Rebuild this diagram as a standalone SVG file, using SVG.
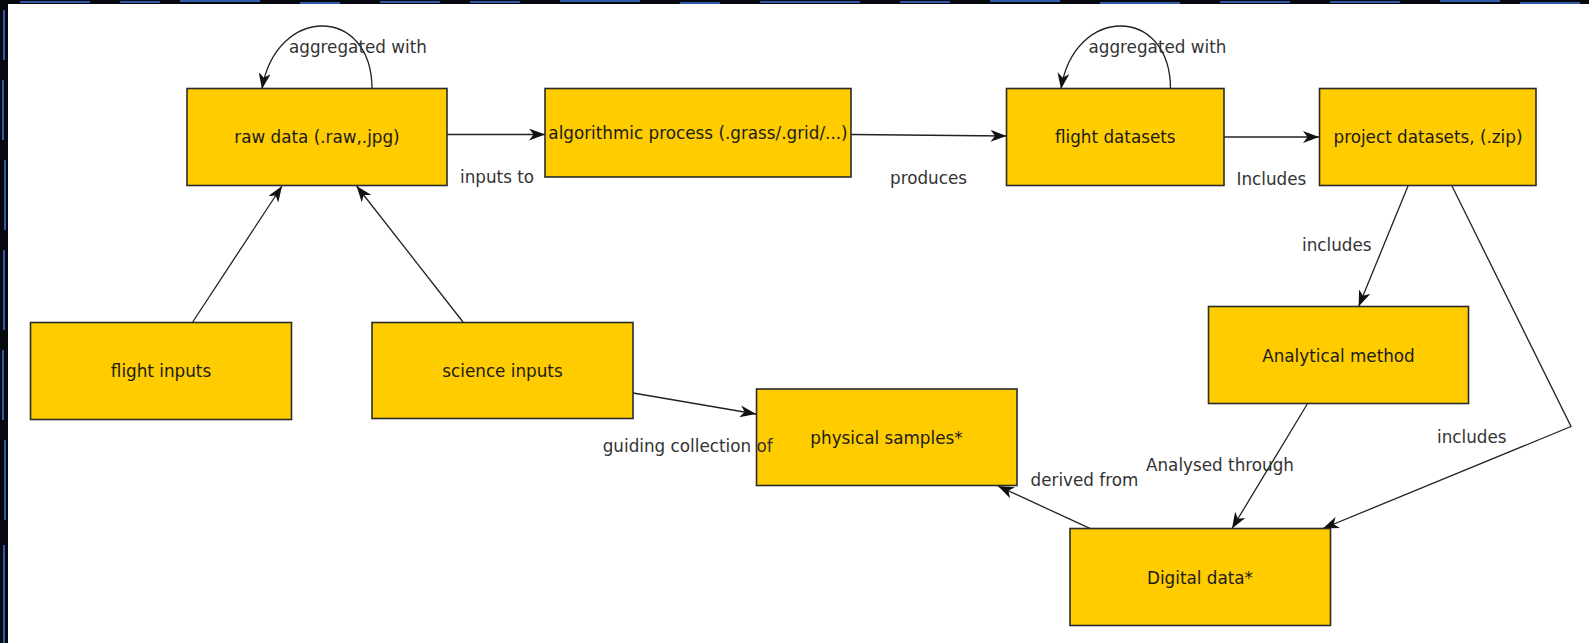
<svg xmlns="http://www.w3.org/2000/svg" width="1589" height="643" viewBox="0 0 1589 643">
  <style>
    .box { fill: #FFCC00; stroke: #2b2b2b; stroke-width: 1.6; }
    .ntext { font-family: "DejaVu Sans", "Liberation Sans", sans-serif; font-size: 16.8px; fill: #1a1a1a; text-anchor: middle; }
    .label { font-family: "DejaVu Sans", "Liberation Sans", sans-serif; font-size: 16.8px; fill: #333333; }
    .edge { fill: none; stroke: #222222; stroke-width: 1.3; marker-end: url(#arrow); }
    .circ { stroke: #2f5aa8; stroke-width: 2; fill: none; }
  </style>
  <defs>
    <marker id="arrow" viewBox="0 0 16 12" refX="16" refY="6" markerWidth="16" markerHeight="12" markerUnits="userSpaceOnUse" orient="auto">
      <path d="M0,0 L16,6 L0,12 L4.5,6 Z" fill="#111111"/>
    </marker>
  </defs>

  <!-- decorative dark border -->
  <g id="background">
    <rect x="0" y="0" width="1589" height="643" fill="#05080f"/>
    <path class="circ" d="M20,2 H90 M120,2 H160 M180,1 H260 M300,3 H340 M380,2 H440 M470,2 H520 M560,1 H640 M680,3 H720 M760,2 H860 M900,2 H950 M990,1 H1060 M1100,3 H1180 M1220,2 H1290 M1330,2 H1400 M1440,1 H1500 M1520,3 H1580"/>
    <path class="circ" d="M4,10 V60 M3,80 V140 M5,160 V230 M4,250 V330 M3,350 V420 M5,440 V520 M4,545 V643"/>
    <rect x="8" y="4" width="1581" height="639" fill="#ffffff"/>
  </g>

  <g id="connectors">
    <path class="edge" d="M372,89 C372,5 276,5 262,89"/>
    <path class="edge" d="M447,134.5 L545,134.5"/>
    <path class="edge" d="M851,134.5 L1006.5,136"/>
    <path class="edge" d="M1170.5,89 C1170.5,5 1074,5 1061,89"/>
    <path class="edge" d="M1224,137 L1319,137"/>
    <path class="edge" d="M1408,186 L1358.6,306.5"/>
    <path class="edge" d="M1452,186 L1571,426.5 L1323,528.5"/>
    <path class="edge" d="M1307.3,404 L1232,528.5"/>
    <path class="edge" d="M1090.4,528.7 L998,486"/>
    <path class="edge" d="M633,393 L756,414"/>
    <path class="edge" d="M192.7,322 L282,186"/>
    <path class="edge" d="M463,322 L356.6,186"/>
  </g>

  <g id="raw-data">
    <rect class="box" x="187" y="88.5" width="260" height="97"/>
    <text class="ntext" x="317" y="143">raw data (.raw,.jpg)</text>
  </g>
  <g id="algorithmic-process">
    <rect class="box" x="545" y="88.5" width="306" height="88.5"/>
    <text class="ntext" x="698" y="139">algorithmic process (.grass/.grid/...)</text>
  </g>
  <g id="flight-datasets">
    <rect class="box" x="1006.5" y="88.5" width="217.5" height="97"/>
    <text class="ntext" x="1115.3" y="143">flight datasets</text>
  </g>
  <g id="project-datasets">
    <rect class="box" x="1319.5" y="88.5" width="216.5" height="97"/>
    <text class="ntext" x="1428" y="143">project datasets, (.zip)</text>
  </g>
  <g id="flight-inputs">
    <rect class="box" x="30.5" y="322.5" width="261" height="97"/>
    <text class="ntext" x="161" y="376.5">flight inputs</text>
  </g>
  <g id="science-inputs">
    <rect class="box" x="372" y="322.5" width="261" height="96"/>
    <text class="ntext" x="502.5" y="376.5">science inputs</text>
  </g>
  <g id="physical-samples">
    <rect class="box" x="756.5" y="389" width="260.5" height="96.5"/>
    <text class="ntext" x="886.5" y="444">physical samples*</text>
  </g>
  <g id="analytical-method">
    <rect class="box" x="1208.5" y="306.5" width="260" height="97"/>
    <text class="ntext" x="1338.5" y="362">Analytical method</text>
  </g>
  <g id="digital-data">
    <rect class="box" x="1070" y="528.5" width="260.5" height="97"/>
    <text class="ntext" x="1200" y="583.5">Digital data*</text>
  </g>

  <g id="connector-labels">
    <text class="label" x="289" y="53">aggregated with</text>
    <text class="label" x="1088.5" y="52.5">aggregated with</text>
    <text class="label" x="460" y="182.5">inputs to</text>
    <text class="label" x="890" y="184">produces</text>
    <text class="label" x="1236.5" y="185">Includes</text>
    <text class="label" x="1302" y="250.5">includes</text>
    <text class="label" x="1437" y="443">includes</text>
    <text class="label" x="1146" y="471">Analysed through</text>
    <text class="label" x="1030.5" y="485.5">derived from</text>
    <text class="label" x="602.7" y="452">guiding collection of</text>
  </g>
</svg>
